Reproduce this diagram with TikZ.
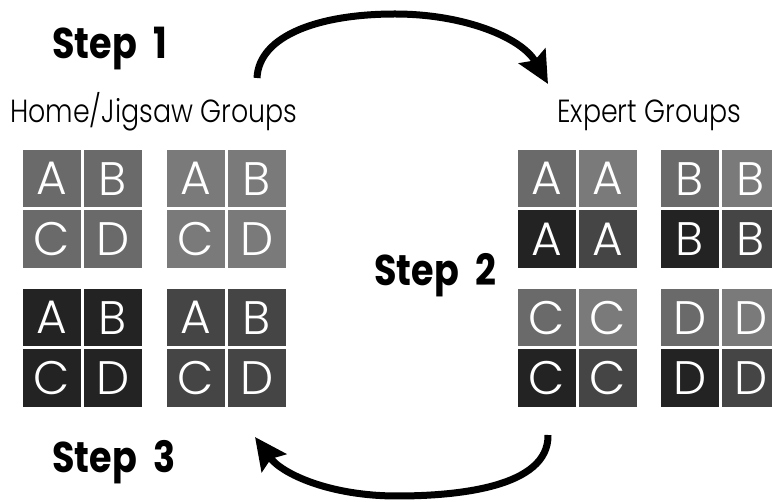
\documentclass[tikz,border=0pt]{standalone}
\usepackage{fontspec}
\setmainfont{Poppins}
\newfontfamily\lightfont{Poppins Light}
\usetikzlibrary{arrows.meta}

\definecolor{homeA}{HTML}{6A6A6A}
\definecolor{homeB}{HTML}{7A7A7A}
\definecolor{homeC}{HTML}{232323}
\definecolor{homeD}{HTML}{454545}

\tikzset{
  cell/.style={minimum width=58pt, minimum height=57.5pt, inner sep=0pt,
    text=white, font=\lightfont\fontsize{47}{47}\selectfont},
  steplabel/.style={anchor=base west, inner sep=0pt, xscale=0.85,
    font=\bfseries\fontsize{43}{43}\selectfont},
  grouplabel/.style={anchor=base west, inner sep=0pt, xscale=0.84,
    font=\lightfont\fontsize{32}{32}\selectfont},
  bigarrow/.style={line width=7pt,
    -{Stealth[length=32pt, width=30pt, inset=5pt]}}
}

% a home group: name, left, top, fill colour
\newcommand\homegroup[4]{%
  \node[cell, fill=#4] (#1-1) at (#2+29,#3+28.75) {A};
  \node[cell, fill=#4] (#1-2) at (#2+90,#3+28.75) {B};
  \node[cell, fill=#4] (#1-3) at (#2+29,#3+89.25) {C};
  \node[cell, fill=#4] (#1-4) at (#2+90,#3+89.25) {D};}

% an expert group: name, left, top, letter
\newcommand\expertgroup[4]{%
  \node[cell, fill=homeA] (#1-1) at (#2+29,#3+28.75) {#4};
  \node[cell, fill=homeB] (#1-2) at (#2+90,#3+28.75) {#4};
  \node[cell, fill=homeC] (#1-3) at (#2+29,#3+89.25) {#4};
  \node[cell, fill=homeD] (#1-4) at (#2+90,#3+89.25) {#4};}

\begin{document}
\begin{tikzpicture}[x=1pt, y=-1pt]
  \useasboundingbox (0,0) rectangle (772,502);
  \clip (0,0) rectangle (772,502);

  % labels
  \node[steplabel] (step1) at (52,59) {Step\hspace{10pt} 1};
  \node[steplabel] (step2) at (374,286) {Step\hspace{10pt} 2};
  \node[steplabel] (step3) at (52,473) {Step\hspace{10pt} 3};
  \node[grouplabel] (homelbl) at (10,123) {Home/Jigsaw Groups};
  \node[grouplabel] (expertlbl) at (557,123) {Expert Groups};

  % home (jigsaw) groups
  \homegroup{h1}{23}{150}{homeA}
  \homegroup{h2}{167}{150}{homeB}
  \homegroup{h3}{23}{289}{homeC}
  \homegroup{h4}{167}{289}{homeD}

  % expert groups
  \expertgroup{ea}{518}{150}{A}
  \expertgroup{eb}{661}{150}{B}
  \expertgroup{ec}{518}{289}{C}
  \expertgroup{ed}{661}{289}{D}

  % step arrows
  \coordinate (go) at (257,78);
  \coordinate (arrive) at (548,84);
  \coordinate (back) at (548,435);
  \coordinate (return) at (255,437);
  \draw[bigarrow] (go) .. controls (259,35) and (320,14) .. (395,14)
    .. controls (465,14) and (522,38) .. (arrive);
  \draw[bigarrow] (back) .. controls (549,488) and (455,496) .. (397,496)
    .. controls (330,496) and (282,474) .. (return);
\end{tikzpicture}
\end{document}
